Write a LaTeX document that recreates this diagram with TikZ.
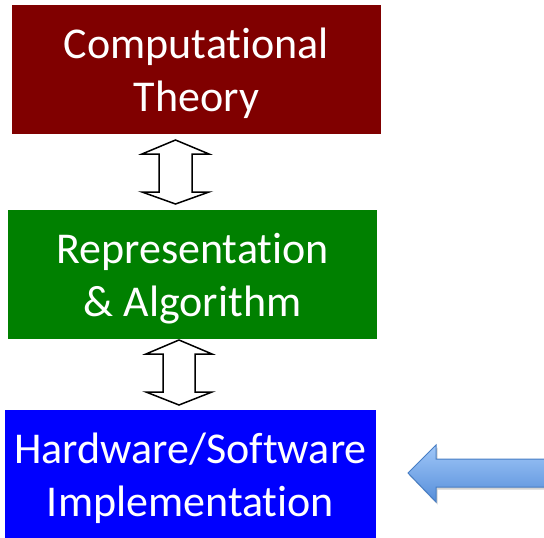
\documentclass[tikz,border=0pt]{standalone}
\usepackage{fontspec}
\setmainfont{Carlito}[Ligatures=NoCommon]
\usetikzlibrary{shadows}
\definecolor{theoryred}{RGB}{128,0,0}
\definecolor{algogreen}{RGB}{0,128,0}
\definecolor{implblue}{RGB}{0,0,255}
\definecolor{arrowtop}{RGB}{160,199,248}
\definecolor{arrowbot}{RGB}{86,142,218}
\definecolor{arrowedge}{RGB}{72,126,196}
\begin{document}
\begin{tikzpicture}[x=1pt,y=-1pt,
  levelbox/.style={rectangle, inner sep=0pt, minimum width=369pt, minimum height=129pt},
  leveltext/.style={text=white, font=\fontsize{44}{53}\selectfont, align=center, inner sep=0pt, yshift=-4pt},
  dblarrow/.style={draw=black, fill=white, line width=1.5pt, line join=miter},
  pointer/.style={draw=arrowedge, line width=1pt, top color=arrowtop, bottom color=arrowbot,
    drop shadow={shadow xshift=1.5pt, shadow yshift=-2.5pt, opacity=0.35}}]
\useasboundingbox (0,0) rectangle (544,538);
\node[levelbox, fill=theoryred, label={[leveltext]center:{Computational\\Theory}}] (theory) at (196.5,69.5) {};
\node[levelbox, fill=algogreen, label={[leveltext]center:{Representation\\\& Algorithm}}] (algo) at (192.5,274.5) {};
\node[levelbox, fill=implblue, minimum width=371pt, label={[leveltext]center:{Hardware/Software\\Implementation}}] (impl) at (190.5,474.5) {};
% double arrows
\draw[dblarrow] (175.5,140) -- (209,154) -- (192,154) -- (192,192) -- (209,192) -- (175.5,204)
  -- (142,192) -- (159,192) -- (159,154) -- (142,154) -- cycle;
\draw[dblarrow] (179,340) -- (212,354) -- (195,354) -- (195,392) -- (212,392) -- (179,405)
  -- (146,392) -- (163,392) -- (163,354) -- (146,354) -- cycle;
% pointer arrow
\path[pointer] (408,473) -- (436,445) -- (436,459) -- (548,459) -- (548,487) -- (436,487) -- (436,502) -- cycle;
\end{tikzpicture}
\end{document}
